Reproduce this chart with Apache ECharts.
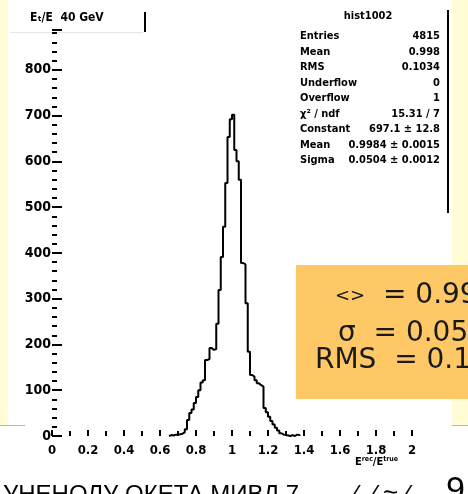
<!DOCTYPE html>
<html>
<head>
<meta charset="utf-8">
<script src="https://cdn.jsdelivr.net/npm/echarts@6/dist/echarts.min.js"></script>
<style>
html,body{margin:0;padding:0;background:#fff;}
#c{width:468px;height:494px;}
</style>
</head>
<body>
<div id="c"></div>
<script>
// ---- data ----
const binStart = 0.65;
const binWidth = 0.0125;
const counts = [2,1,3,3,4,5,8,15,35,50,58,72,85,100,117,122,166,168,192,188,190,245,319,391,457,553,653,692,702,625,600,560,378,375,290,184,133,130,122,115,111,108,61,52,42,33,25,18,12,6,3,2,1,0,2,0,3,2];
const xTicks = [0,0.2,0.4,0.6,0.8,1,1.2,1.4,1.6,1.8,2];
const yTicks = [0,100,200,300,400,500,600,700,800];
const statTitle = 'hist1002';
const statNames = ['Entries','Mean','RMS','Underflow','Overflow','\u03c7\u00b2 / ndf','Constant','Mean','Sigma'];
const statValues = ['4815','0.998','0.1034','0','1','15.31 / 7','697.1 \u00b1 12.8','0.9984 \u00b1 0.0015','0.0504 \u00b1 0.0012'];
const boxLabels = ['<>','\u03c3','RMS'];
const boxValues = ['0.998','0.050','0.103'];
const titleText = 'E\u209c/E  40 GeV';
const bottomText = '\u0423\u041d\u0415\u041d\u041e\u041b\u0423 \u041e\u041a\u0415\u0422\u0410 \u041c\u0418\u0412\u0414 7';
const bottomTail = '\u2044  \u2044 \u2248 \u2044';

// ---- build step histogram points ----
const pts = [[binStart, 0]];
counts.forEach((c, i) => pts.push([+(binStart + i * binWidth).toFixed(4), c]));
pts.push([+(binStart + counts.length * binWidth).toFixed(4), 0]);

const chart = echarts.init(document.getElementById('c'), null, {renderer: 'canvas'});
const narrow = "'Liberation Sans Narrow','DejaVu Sans Condensed',sans-serif";

const graphics = [
  {type:'rect', shape:{x:0,y:0,width:8,height:425}, style:{fill:'#FFFCD6'}, z:-10},
  {type:'rect', shape:{x:452,y:0,width:16,height:425}, style:{fill:'#FFFCD6'}, z:-10},
  {type:'line', shape:{x1:0,y1:425.5,x2:25,y2:425.5}, style:{stroke:'#E9A0A0',lineWidth:1}},
  {type:'line', shape:{x1:452,y1:425.5,x2:468,y2:425.5}, style:{stroke:'#E9A0A0',lineWidth:1}},
  // title
  {type:'text', x:30, y:12, style:{text:titleText, font:"bold 12px " + narrow, fill:'#000'}},
  {type:'line', shape:{x1:145,y1:12,x2:145,y2:32}, style:{stroke:'#000',lineWidth:2}},
  {type:'line', shape:{x1:10,y1:32.5,x2:143,y2:32.5}, style:{stroke:'#e6e6e6',lineWidth:1}},
  // stat box
  {type:'rect', shape:{x:290,y:0,width:158,height:213}, style:{fill:'#fff'}, z:5},
  {type:'line', shape:{x1:448,y1:10,x2:448,y2:213}, style:{stroke:'#000',lineWidth:2}, z:6},
  {type:'text', x:368, y:11, style:{text:statTitle, font:"bold 11px " + narrow, fill:'#000', align:'center'}, z:6},
  // orange box
  {type:'rect', shape:{x:296,y:265,width:180,height:134}, style:{fill:'#FDC865'}, z:7},
  // x-axis title
  {type:'text', x:355, y:456, style:{text:'{a|E}{s|rec}{a|/E}{s|true}', rich:{a:{font:"bold 11px " + narrow, fill:'#000'}, s:{font:"bold 7px " + narrow, fill:'#000', verticalAlign:'top', padding:[0,0,6,0]}}}},
  // bottom slide text (cut by the edge)
  {type:'text', x:3, y:483, style:{text:bottomText, font:"24px 'Liberation Sans',sans-serif", fill:'#000'}},
  {type:'text', x:353, y:483, style:{text:bottomTail, font:"26px 'Liberation Sans',sans-serif", fill:'#000'}},
  {type:'text', x:446, y:474, style:{text:'9', font:"34px 'Liberation Sans',sans-serif", fill:'#000'}}
];
statNames.forEach((n, i) => {
  graphics.push({type:'text', x:300, y:31 + i * 15.5, style:{text:n, font:"bold 11px " + narrow, fill:'#000'}, z:6});
  graphics.push({type:'text', x:440, y:31 + i * 15.5, style:{text:statValues[i], font:"bold 11px " + narrow, fill:'#000', align:'right'}, z:6});
});
const boxX = [335, 338, 315];
const boxY = [296, 334, 361];
boxLabels.forEach((t, i) => {
  const lab = i === 0 ? '{lt|' + t + '}' : '{n|' + t + '}';
  graphics.push({type:'text', x:boxX[i], y:boxY[i], style:{
    text: lab + '{n|  = ' + boxValues[i] + '}',
    rich:{n:{font:"28px 'DejaVu Sans',sans-serif", fill:'#1a1a1a'}, lt:{font:"18px 'DejaVu Sans',sans-serif", fill:'#1a1a1a'}},
    verticalAlign:'middle'}, z:8});
});

chart.setOption({
  animation: false,
  backgroundColor: '#fff',
  grid: {left:52, right:56, top:30, bottom:58},
  xAxis: {
    type:'value', min:0, max:2, interval:0.2,
    axisLine:{show:false},
    axisTick:{show:true, inside:true, length:6, lineStyle:{color:'#000', width:2}},
    minorTick:{show:true, splitNumber:2, length:5, lineStyle:{color:'#000', width:2}},
    splitLine:{show:false},
    axisLabel:{margin:8, color:'#000', fontWeight:'bold', fontSize:13, fontFamily:narrow,
      formatter: v => xTicks.some(t => Math.abs(t - v) < 1e-9) ? String(+v.toFixed(1)) : ''}
  },
  yAxis: {
    type:'value', min:0, max:887, interval:100,
    axisLine:{show:false},
    axisTick:{show:true, inside:true, length:10, lineStyle:{color:'#000', width:2}},
    minorTick:{show:true, splitNumber:5, length:5, lineStyle:{color:'#000', width:2}},
    splitLine:{show:false},
    axisLabel:{margin:1, color:'#000', fontWeight:'bold', fontSize:14, fontFamily:narrow,
      formatter: v => yTicks.indexOf(Math.round(v)) >= 0 && Math.abs(v - Math.round(v)) < 1e-6 ? String(Math.round(v)) : ''}
  },
  series: [{
    type:'line', step:'end', data:pts, symbol:'none',
    lineStyle:{color:'#000', width:2}, z:3
  }],
  graphic: graphics
});
</script>
</body>
</html>
